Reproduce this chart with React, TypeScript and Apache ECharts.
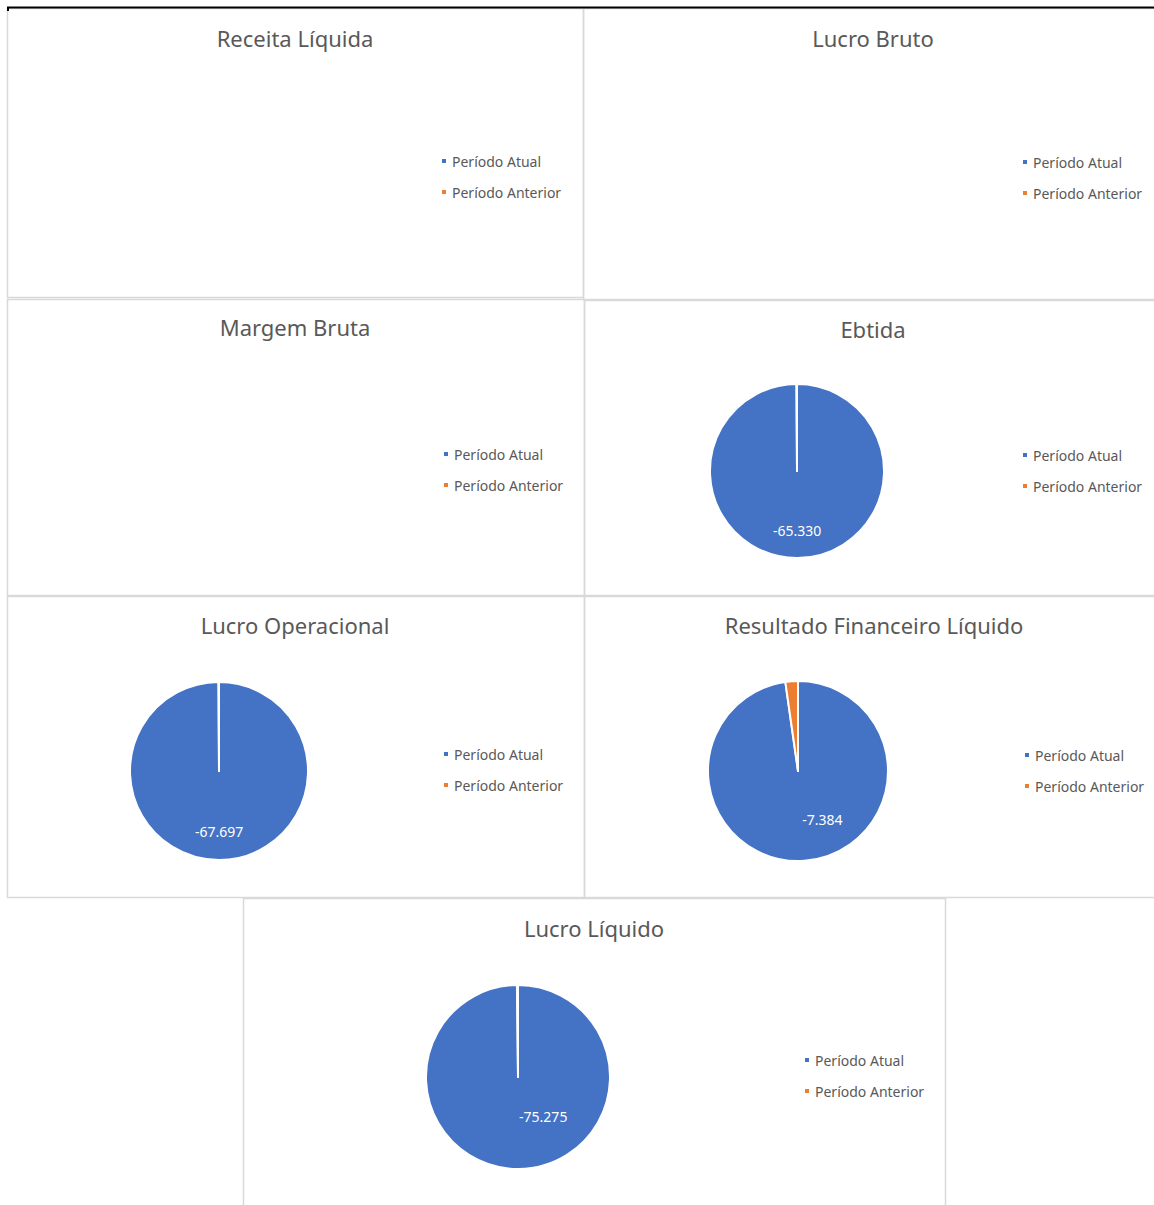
import React, { useEffect, useRef } from 'react';
import * as echarts from 'echarts';

const categories = ['Período Atual', 'Período Anterior'];
const chartTitles = [
  'Receita Líquida',
  'Lucro Bruto',
  'Margem Bruta',
  'Ebtida',
  'Lucro Operacional',
  'Resultado Financeiro Líquido',
  'Lucro Líquido',
];
const receitaLiquida: (number | null)[] = [null, null];
const lucroBruto: (number | null)[] = [null, null];
const margemBruta: (number | null)[] = [null, null];
const ebtida: (number | null)[] = [-65330, -60];
const lucroOperacional: (number | null)[] = [-67697, -60];
const resultadoFinanceiro: (number | null)[] = [-7384, -170];
const lucroLiquido: (number | null)[] = [-75275, -120];

const seriesValues = [
  receitaLiquida,
  lucroBruto,
  margemBruta,
  ebtida,
  lucroOperacional,
  resultadoFinanceiro,
  lucroLiquido,
];

// layout (positions / sizes only)
const panels = [
  { x: 7, y: 8, w: 576, h: 289, tx: 295, ty: 40, lx: 440, ly: 161, cx: 295, cy: 170, r: 88, off: [0, 13] },
  { x: 583, y: 8, w: 577, h: 291, tx: 873, ty: 40, lx: 1021, ly: 162, cx: 873, cy: 170, r: 88, off: [0, 13] },
  { x: 7, y: 299, w: 577, h: 296, tx: 295, ty: 329, lx: 442, ly: 454, cx: 295, cy: 460, r: 88, off: [0, 13] },
  { x: 584, y: 300, w: 576, h: 295, tx: 873, ty: 331, lx: 1021, ly: 455, cx: 797, cy: 471, r: 87, off: [0, 13] },
  { x: 7, y: 596, w: 577, h: 301, tx: 295, ty: 627, lx: 442, ly: 754, cx: 219, cy: 771, r: 89, off: [0, 13] },
  { x: 584, y: 596, w: 576, h: 301, tx: 874, ty: 627, lx: 1023, ly: 755, cx: 798, cy: 771, r: 90, off: [21, 1] },
  { x: 243, y: 898, w: 702, h: 320, tx: 594, ty: 930, lx: 803, ly: 1060, cx: 518, cy: 1077, r: 92, off: [25, -9] },
];

const COLORS = ['#4472C4', '#ED7D31'];
const FONT = '"Noto Sans", "Open Sans", sans-serif';

function fmt(v: number): string {
  const neg = v < 0;
  const s = Math.round(Math.abs(v)).toString().replace(/\B(?=(\d{3})+(?!\d))/g, '.');
  return (neg ? '-' : '') + s;
}

export default function App() {
  const ref = useRef<HTMLDivElement>(null);
  useEffect(() => {
    if (!ref.current) return;
    const chart = echarts.init(ref.current, undefined, { renderer: 'svg' });

    const graphics: any[] = [
      {
        type: 'line',
        shape: { x1: 7, y1: 7.5, x2: 1154, y2: 7.5 },
        style: { stroke: '#000', lineWidth: 2 },
        z: 10,
      },
      {
        type: 'line',
        shape: { x1: 8, y1: 7, x2: 8, y2: 11 },
        style: { stroke: '#000', lineWidth: 2 },
        z: 10,
      },
    ];
    panels.forEach((p) => {
      graphics.push({
        type: 'rect',
        shape: { x: p.x + 0.5, y: p.y + 0.5, width: p.w, height: p.h },
        style: { fill: 'none', stroke: '#D9D9D9', lineWidth: 1.5 },
        z: -1,
      });
    });

    const option: any = {
      animation: false,
      backgroundColor: '#ffffff',
      color: COLORS,
      graphic: graphics,
      title: chartTitles.map((t, i) => ({
        text: t,
        left: panels[i].tx,
        top: panels[i].ty - 13,
        textAlign: 'center',
        padding: 0,
        textStyle: {
          fontFamily: FONT,
          fontSize: 22,
          fontWeight: 'normal',
          color: '#595959',
        },
      })),
      legend: panels.map((p) => ({
        data: categories,
        orient: 'vertical',
        left: p.lx,
        top: p.ly - 7,
        padding: 0,
        itemWidth: 6,
        itemHeight: 6,
        itemGap: 17,
        icon: 'rect',
        selectedMode: false,
        textStyle: {
          fontFamily: FONT,
          fontSize: 14,
          lineHeight: 14,
          color: '#595959',
        },
      })),
      series: seriesValues.map((vals, i) => {
        const p = panels[i];
        return {
          type: 'pie',
          name: chartTitles[i],
          center: [p.cx, p.cy],
          radius: [0, p.r],
          startAngle: 90,
          clockwise: true,
          stillShowZeroSum: false,
          avoidLabelOverlap: false,
          itemStyle: { borderColor: '#ffffff', borderWidth: 2 },
          labelLine: { show: false },
          emphasis: { disabled: true },
          data: categories.map((c, j) => {
            const v = vals[j];
            return {
              name: c,
              value: v === null ? '-' : Math.abs(v),
              label: {
                show: j === 0 && v !== null,
                position: 'inside',
                offset: p.off,
                color: '#ffffff',
                fontFamily: FONT,
                fontSize: 14,
                formatter: () => (v === null ? '' : fmt(v)),
              },
            };
          }),
        };
      }),
    };
    chart.setOption(option);
    return () => chart.dispose();
  }, []);

  return (
    <div
      ref={ref}
      style={{ position: 'fixed', left: 0, top: 0, width: 1154, height: 1205, background: '#fff' }}
    />
  );
}
